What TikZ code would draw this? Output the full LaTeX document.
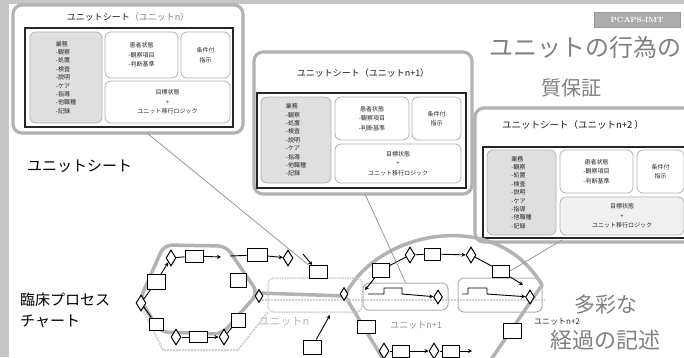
\documentclass[tikz,border=0pt]{standalone}
\usepackage{fontspec}
\newfontfamily\jp{Noto Sans CJK JP}
\usetikzlibrary{shapes.geometric,arrows.meta}
\newcommand\usleftlist{業務\\-観察\\-処置\\-検査\\-説明\\-ケア\\-指導\\-他職種\\-記録}
\newcommand\usmidtext{患者状態\\-観察項目\\-判断基準}
\newcommand\usrighttext{条件付\\指示}
\newcommand\usbottomtext{目標状態\\+\\ユニット移行ロジック}
\begin{document}
\begin{tikzpicture}[x=1pt,y=-1pt]
\tikzset{
 sheetouter/.style={draw=gray!60, line width=3.2pt, rounded corners=9pt, inner sep=0pt},
 sheetinner/.style={draw=black!85, line width=1.3pt, inner sep=0pt},
 lbox/.style={draw=gray!60, fill=gray!25, rounded corners=6pt, line width=0.8pt, font=\jp\fontsize{6}{8.4}\selectfont, align=left, text=black!85, inner sep=0pt},
 sbox/.style={draw=gray!60, fill=white, rounded corners=6pt, line width=0.8pt, font=\jp\fontsize{6}{9.5}\selectfont, align=center, text=black!85, inner sep=0pt},
 stitle/.style={font=\jp\fontsize{9}{10}\selectfont, text=black!90, inner sep=0pt},
 fb/.style={draw=black, fill=white, line width=1pt, minimum width=17pt, minimum height=12pt, inner sep=0pt},
 fd/.style={diamond, draw=black, fill=white, line width=1pt, minimum width=10pt, minimum height=16pt, inner sep=0pt},
 farr/.style={-{Stealth[length=4pt,width=4pt]}, line width=0.9pt, draw=black},
 fline/.style={line width=0.9pt, draw=black},
 gpath/.style={draw=gray!60, line width=3.5pt, line join=round, line cap=round},
 lpath/.style={draw=gray!35, line width=2pt, densely dotted},
 unitbox/.style={draw=gray!60, line width=1pt, rounded corners=6pt, inner sep=0pt},
 conn/.style={draw=gray!80, line width=0.8pt},
 bigtxt/.style={font=\jp\fontsize{24}{26}\selectfont, text=black!50, inner sep=0pt},
 lbl/.style={font=\jp\fontsize{15}{21}\selectfont, text=black, align=left, inner sep=0pt},
 smalllbl/.style={font=\jp\fontsize{9}{10}\selectfont, inner sep=0pt},
}
\useasboundingbox (0,0) rectangle (684,357);
\clip (0,0) rectangle (684,357);
\fill[white] (0,0) rectangle (684,357);
\fill[gray!45] (0,0) rectangle (9,357);
\fill[gray!45] (0,0) rectangle (684,4);

% ---------- unit sheet n ----------
\node[sheetouter, minimum width=230pt, minimum height=128pt] (s1) at (128,69) {};
\node[stitle] (s1t) at (128,17) {ユニットシート\textcolor{gray}{（ユニットn）}};
\node[sheetinner, minimum width=208pt, minimum height=99pt] (s1i) at (129,77.5) {};
\node[lbox, minimum width=72pt, minimum height=91pt] (s1l) at (66,77.5) {\usleftlist};
\node[sbox, minimum width=73pt, minimum height=46pt] (s1m) at (141.5,55) {\usmidtext};
\node[sbox, minimum width=49pt, minimum height=46pt] (s1r) at (205.5,55) {\usrighttext};
\node[sbox, minimum width=125pt, minimum height=42pt] (s1b) at (167.5,102) {\usbottomtext};

% ---------- unit sheet n+1 ----------
\node[sheetouter, minimum width=218pt, minimum height=142pt] (s2) at (363,123) {};
\node[stitle] (s2t) at (363,73) {ユニットシート（ユニットn+1）};
\node[sheetinner, minimum width=209pt, minimum height=95pt] (s2i) at (361.5,140.5) {};
\node[lbox, minimum width=70pt, minimum height=86pt] (s2l) at (296,140) {\usleftlist};
\node[sbox, minimum width=74pt, minimum height=43pt] (s2m) at (372,118.5) {\usmidtext};
\node[sbox, minimum width=49pt, minimum height=43pt] (s2r) at (436.5,118.5) {\usrighttext};
\node[sbox, minimum width=126pt, minimum height=39pt] (s2b) at (398,163.5) {\usbottomtext};

% ---------- unit sheet n+2 ----------
\node[sheetouter, minimum width=217pt, minimum height=134pt] (s3) at (583.5,175) {};
\node[stitle, font=\jp\fontsize{9.5}{11}\selectfont] (s3t) at (573,125) {ユニットシート（ユニットn+2 ）};
\node[sheetinner, minimum width=209pt, minimum height=91pt] (s3i) at (587.5,192.5) {};
\node[lbox, minimum width=69pt, minimum height=85pt] (s3l) at (521.5,192.5) {\usleftlist};
\node[sbox, minimum width=73pt, minimum height=43pt] (s3m) at (596.5,171.5) {\usmidtext};
\node[sbox, minimum width=47pt, minimum height=43pt] (s3r) at (660.5,171.5) {\usrighttext};
\node[sbox, fill=gray!12, minimum width=124pt, minimum height=38pt] (s3b) at (622,216) {\usbottomtext};

% ---------- titles ----------
\node[draw=gray!80, fill=gray!65, text=white, font=\bfseries\fontsize{7.5}{8}\selectfont, minimum width=86pt, minimum height=15pt, inner sep=0pt] (pc) at (637,20) {PCAPS-IMT};
\node[bigtxt] (tt1) at (585,47) {ユニットの行為の};
\node[bigtxt, font=\jp\fontsize{20}{22}\selectfont] (tt2) at (571,88) {質保証};
\node[lbl, anchor=west] (lus) at (27,166) {ユニットシート};
\node[lbl, anchor=north west] (lcp) at (20,293) {臨床プロセス\\チャート};
\node[bigtxt, font=\jp\fontsize{21}{23}\selectfont] (tx1) at (606,305) {多彩な};
\node[bigtxt, font=\jp\fontsize{22}{24}\selectfont] (tx2) at (605,340) {経過の記述};

% ---------- process chart: paths ----------
\draw[lpath] (142,308) -- (163,350) -- (238,350) -- (268,312);
\draw[gpath, rounded corners=8pt] (258,293) -- (226,246) -- (164,245) -- (140,299) -- (160,332) -- (222,334) -- cycle;
\draw[gpath] (258,293) -- (345,296);
\draw[gpath] (345,296) .. controls (375,232) and (495,205) .. (542,285);
\draw[gpath] (345,296) -- (386,364);
\draw[gpath] (542,285) -- (488,364);
\draw[lpath] (262,300) -- (545,300);

\node[unitbox, draw=gray!40, line width=1.5pt, densely dotted, minimum width=94pt, minimum height=34pt] (un) at (315,295) {};
\node[unitbox, minimum width=85pt, minimum height=27pt] (u1) at (405.5,296.5) {};
\node[unitbox, minimum width=84pt, minimum height=34pt] (u2) at (500,295) {};

% ---------- left lobe ----------
\node[fd] (d1) at (171,258) {};
\node[fb, minimum width=18pt] (b1) at (194,256) {};
\coordinate (c1) at (221,257);
\coordinate (c2) at (230,256);
\node[fb, minimum width=20pt, minimum height=13pt] (b2) at (257,255) {};
\node[fd] (d2) at (288,258) {};
\node[fb, minimum width=16pt, minimum height=14pt] (b3) at (238,280) {};
\node[fb, minimum width=18pt, minimum height=15pt] (b4) at (156,282) {};
\node[fd] (d3) at (141,303) {};
\node[fb, minimum width=14pt, minimum height=12pt] (b5) at (156,324) {};
\node[fd] (d4) at (176,337) {};
\node[fb, minimum width=18pt, minimum height=11pt] (b6) at (198,337) {};
\node[fd] (d5) at (224,337) {};
\node[fb, minimum width=14pt, minimum height=14pt] (b7) at (238,320) {};
\node[fb, minimum width=18pt, minimum height=14pt] (b8) at (312,347) {};
\coordinate (c3) at (330,315);
\node[fb, minimum width=18pt, minimum height=13pt] (b9) at (318,272) {};
\coordinate (c4) at (303,254);
\node[fd, minimum width=8pt, minimum height=13pt] (d12) at (259,296) {};
\node[fd, minimum width=8pt, minimum height=13pt] (d13) at (344,294) {};

\draw[farr] (b1) -- (c1);
\draw[fline] (c2) -- (b2);
\draw[farr] (b2) -- (d2);
\draw[fline] (d1) -- (b1);
\draw[farr] (b4) -- (d1);
\draw[fline] (d3) -- (b4);
\draw[fline] (d3) -- (b5);
\draw[fline] (d4) -- (b6);
\draw[farr] (b6) -- (d5);
\draw[fline] (d5) -- (b7);
\draw[farr] (b8) -- (c3);
\draw[farr] (c4) -- (b9);

% ---------- right lobe ----------
\node[fd] (d6) at (410,255) {};
\node[fb, minimum width=16pt] (b10) at (432,254) {};
\node[fd] (d7) at (471,255) {};
\node[fb] (b11) at (501,271) {};
\coordinate (c5) at (523,285);
\node[fb, minimum height=14pt] (b12) at (381,270) {};
\coordinate (c6) at (365,290);
\node[fd, minimum width=9pt, minimum height=14pt] (d8) at (438,297) {};
\node[fd, minimum width=9pt, minimum height=14pt] (d9) at (530,297) {};
\coordinate (p1) at (368,294);
\coordinate (p2) at (462,294);
\node[fb, minimum width=18pt, minimum height=13pt] (b13) at (366,327) {};
\node[fd] (d10) at (384,351) {};
\node[fb] (b14) at (401,351) {};
\node[fd] (d11) at (434,351) {};
\node[fb] (b15) at (451,351) {};
\coordinate (c7) at (472,351);
\node[fb, minimum width=18pt, minimum height=15pt] (b16) at (512,331) {};

\draw[fline] (d6) -- (b10);
\draw[farr] (b10) -- (d7);
\draw[fline] (d7) -- (b11);
\draw[farr] (b11) -- (c5);
\draw[fline] (b12) -- (d6);
\draw[farr] (b12) -- (c6);
\draw[farr] (p1) -- ++(16,0) -- ++(0,-6) -- ++(18,0) -- ++(0,6) -- (d8);
\draw[farr] (p2) -- ++(6,0) -- ++(0,-6) -- ++(19,0) -- ++(0,6) -- (d9);
\draw[fline] (d10) -- (b14);
\draw[farr] (b14) -- (d11);
\draw[fline] (d11) -- (b15);
\draw[farr] (b15) -- (c7);

% ---------- small labels ----------
\node[smalllbl, text=gray!55, font=\jp\fontsize{11}{12}\selectfont] (lun) at (284,322) {ユニットn};
\node[smalllbl, text=gray!85] (lu1) at (416,325) {ユニットn+1};
\node[smalllbl, text=black!85, font=\jp\fontsize{8}{9}\selectfont] (lu2) at (557,322) {ユニットn+2};

% ---------- sheet connectors ----------
\coordinate (s1a) at (147,133);
\coordinate (s2a) at (365,194);
\coordinate (s3a) at (562,240);
\draw[conn] (s1a) -- (b9.north west);
\draw[conn] (s2a) -- (u1.north);
\draw[conn] (s3a) -- (b11.east);
\end{tikzpicture}
\end{document}
